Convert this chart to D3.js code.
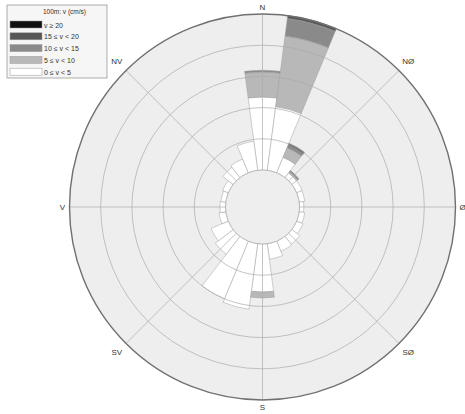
<!DOCTYPE html>
<html>
<head>
<meta charset="utf-8">
<script src="https://cdn.jsdelivr.net/npm/d3@7/dist/d3.min.js"></script>
<style>
  html, body { margin: 0; padding: 0; background: #fff; }
  svg { display: block; font-family: "Liberation Sans", Arial, sans-serif; }
</style>
</head>
<body>
<svg id="rose" width="465" height="414"></svg>
<script>
// Direction sectors (centre, degrees clockwise from north), 15° wide
const directions = [0, 15, 30, 45, 60, 75, 90, 105, 120, 135, 150, 165,
                    180, 195, 210, 225, 240, 255, 270, 285, 300, 315, 330, 345];

// Frequency (%) per sector for each current-speed class
const v0to5   = [11.7, 10.3, 2.7, 0.95, 0.95, 0.9, 0.7, 0.9, 1.1, 1.6, 1.75, 2.5,
                 7.7, 10.6, 10.0, 3.6, 3.0, 1.1, 0.9, 0.8, 1.0, 2.1, 2.4, 4.7];
const v5to10  = [4.0, 11.4, 1.65, 0.25, 0, 0, 0, 0, 0, 0, 0, 0,
                 0.95, 0, 0, 0, 0, 0, 0, 0, 0, 0, 0, 0];
const v10to15 = [0.3, 2.85, 0.45, 0.25, 0, 0, 0, 0, 0, 0, 0, 0,
                 0, 0, 0, 0, 0, 0, 0, 0, 0, 0, 0, 0];
const v15to20 = [0, 0.5, 0.35, 0, 0, 0, 0, 0, 0, 0, 0, 0,
                 0, 0, 0, 0, 0, 0, 0, 0, 0, 0, 0, 0];
const v20plus = [0, 0, 0, 0, 0, 0, 0, 0, 0, 0, 0, 0,
                 0, 0, 0, 0, 0, 0, 0, 0, 0, 0, 0, 0];

const speedClasses = ["0 ≤ v < 5", "5 ≤ v < 10", "10 ≤ v < 15", "15 ≤ v < 20", "v ≥ 20"];
const classColors  = ["#ffffff", "#b8b8b8", "#8a8a8a", "#575757", "#111111"];
const legendTitle  = "100m: v (cm/s)";

// Grid rings (%) and compass labels
const ringValues = [5, 10, 15, 20, 25];
const compassLabels = ["N", "NØ", "Ø", "SØ", "S", "SV", "V", "NV"];
const compassAngles = [0, 45, 90, 135, 180, 225, 270, 315];

const svg = d3.select("#rose");
const cx = 262.5, cy = 207;
const innerR = 37, outerR = 193;
const sectorWidth = 15;

const r = d3.scaleLinear().domain([0, 25]).range([innerR, outerR]);
const rad = d => d * Math.PI / 180;

const g = svg.append("g").attr("transform", `translate(${cx},${cy})`);

// Plot disc
g.append("circle").attr("r", outerR).attr("fill", "#eeeeee");

// Stack the classes per sector
const seriesList = [v0to5, v5to10, v10to15, v15to20, v20plus];
const table = directions.map((d, i) => {
  const row = { dir: d };
  speedClasses.forEach((c, k) => row[c] = seriesList[k][i]);
  return row;
});
const stacked = d3.stack().keys(speedClasses)(table);

const arc = d3.arc();
g.append("g").selectAll("g")
  .data(stacked)
  .join("g")
    .attr("fill", (s, k) => classColors[k])
  .selectAll("path")
  .data(s => s.filter(p => p[1] - p[0] > 0))
  .join("path")
    .attr("d", p => arc({
      innerRadius: r(p[0]),
      outerRadius: r(p[1]),
      startAngle: rad(p.data.dir - sectorWidth / 2),
      endAngle: rad(p.data.dir + sectorWidth / 2)
    }))
    .attr("stroke", "#a0a0a0")
    .attr("stroke-width", 0.5);

// Grid rings and spokes drawn over the bars
const grid = g.append("g").attr("fill", "none").attr("stroke", "#ababab").attr("stroke-width", 0.7);
grid.selectAll("circle.ring")
  .data(ringValues.slice(0, -1))
  .join("circle")
    .attr("class", "ring")
    .attr("r", d => r(d));
grid.selectAll("line")
  .data(compassAngles)
  .join("line")
    .attr("x1", a => innerR * Math.sin(rad(a)))
    .attr("y1", a => -innerR * Math.cos(rad(a)))
    .attr("x2", a => outerR * Math.sin(rad(a)))
    .attr("y2", a => -outerR * Math.cos(rad(a)));

// Inner hole
g.append("circle").attr("r", innerR).attr("fill", "#eeeeee").attr("stroke", "#ababab").attr("stroke-width", 0.7);
// Outer boundary
g.append("circle").attr("r", outerR).attr("fill", "none").attr("stroke", "#707070").attr("stroke-width", 1.4);

// Compass labels
g.selectAll("text.dir")
  .data(compassLabels)
  .join("text")
    .attr("class", "dir")
    .attr("x", (t, i) => (compassAngles[i] % 90 === 0 ? 200 : 206) * Math.sin(rad(compassAngles[i])))
    .attr("y", (t, i) => -(compassAngles[i] % 90 === 0 ? 200 : 206) * Math.cos(rad(compassAngles[i])))
    .attr("text-anchor", "middle")
    .attr("dominant-baseline", "central")
    .attr("font-size", 8)
    .attr("fill", "#333")
    .text(t => t);

// Legend
const lg = svg.append("g").attr("transform", "translate(7,5)");
lg.append("rect").attr("width", 100).attr("height", 73)
  .attr("fill", "#f6f6f6").attr("stroke", "#9a9a9a").attr("stroke-width", 0.8);
lg.append("text").attr("x", 36).attr("y", 9).attr("font-size", 6.5).attr("fill", "#333").text(legendTitle);
const legendOrder = [4, 3, 2, 1, 0];
const rows = lg.selectAll("g.row").data(legendOrder).join("g")
  .attr("class", "row")
  .attr("transform", (k, i) => `translate(3,${16 + i * 11.8})`);
rows.append("rect").attr("width", 32).attr("height", 7)
  .attr("fill", k => classColors[k]).attr("stroke", "#9a9a9a").attr("stroke-width", 0.5);
rows.append("text").attr("x", 34).attr("y", 6.5).attr("font-size", 7).attr("fill", "#333")
  .text(k => speedClasses[k]);
</script>
</body>
</html>
